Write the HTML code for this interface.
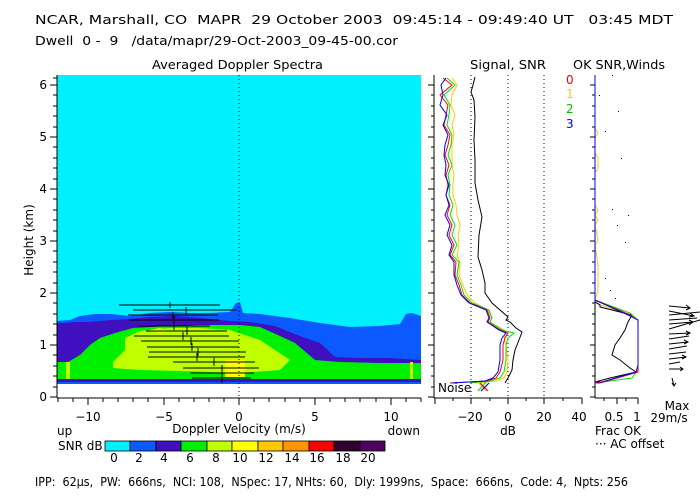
<!DOCTYPE html>
<html><head><meta charset="utf-8"><style>
body{margin:0;background:#fff}
svg{display:block}
text{font-family:"DejaVu Sans","Liberation Sans",sans-serif;font-size:12px}
</style></head><body>
<svg width="700" height="500" viewBox="0 0 700 500" xmlns="http://www.w3.org/2000/svg">
<text x="35" y="24" font-size="13" textLength="638" lengthAdjust="spacingAndGlyphs" xml:space="preserve">NCAR, Marshall, CO  MAPR  29 October 2003  09:45:14 - 09:49:40 UT   03:45 MDT</text>
<text x="35" y="45" font-size="12" textLength="363" lengthAdjust="spacingAndGlyphs" xml:space="preserve">Dwell  0 -  9   /data/mapr/29-Oct-2003_09-45-00.cor</text>
<text x="152" y="69" font-size="12.5" textLength="171" lengthAdjust="spacingAndGlyphs">Averaged Doppler Spectra</text>
<text x="470" y="69" font-size="12.5" textLength="76" lengthAdjust="spacingAndGlyphs">Signal, SNR</text>
<text x="573" y="69" font-size="12.5" textLength="92" lengthAdjust="spacingAndGlyphs">OK SNR,Winds</text>

<!-- main panel -->
<rect x="57" y="75" width="364" height="309" fill="#00f0ff"/>
<polygon fill="#0a5aff" points="57,321 70,320 80,316 95,314 110,314 130,316 150,313 170,312 190,313 210,313 230,312 236,303 240,302 243,313 260,314 290,318 320,323 350,327 380,326 400,324 406,314 412,313 421,316 421,384 57,384"/>
<polygon fill="#4010c0" points="57,323 66,323 75,322 90,322 110,320 130,319 150,317 175,316 200,318 230,321 250,322 275,326 300,336 320,343 335,357 360,358 390,358 421,360 421,384 57,384"/>
<polygon fill="#00f000" points="57,362 68,362 80,355 90,345 100,338 115,333 133,328 170,326 200,325 240,325 260,327 280,336 295,343 315,360 340,362 380,363 421,363 421,380 57,380"/>
<polygon fill="#c0ff00" points="113,362 125,350 125,338 140,331 170,328 200,328 230,330 245,335 260,340 275,350 290,360 280,370 240,373 180,371 140,370 113,368"/>
<polygon fill="#ffff00" points="150,330 160,328 170,331 160,333"/>
<polygon fill="#ffff00" points="225,360 245,360 245,377 225,377"/>
<rect x="66" y="362" width="4" height="21" fill="#c0ff00"/>
<rect x="410" y="362" width="3" height="21" fill="#c0ff00"/>
<rect x="57" y="379" width="364" height="3" fill="#4010c0"/>
<rect x="57" y="382" width="364" height="2" fill="#0a5aff"/>
<line x1="239" y1="75" x2="239" y2="397" stroke="#000" stroke-dasharray="1,3"/>
<g stroke="#000" stroke-width="1">
<line x1="119" y1="305" x2="220" y2="305"/><line x1="170" y1="302" x2="170" y2="308"/>
<line x1="133" y1="310" x2="237" y2="310"/><line x1="186" y1="307" x2="186" y2="314"/>
<line x1="128" y1="315" x2="218" y2="315"/><line x1="173" y1="312" x2="173" y2="319"/>
<line x1="129" y1="320" x2="219" y2="320"/><line x1="174" y1="316" x2="174" y2="324"/>
<line x1="138" y1="326" x2="210" y2="326"/><line x1="174" y1="322" x2="174" y2="330"/>
<line x1="146" y1="331" x2="227" y2="331"/><line x1="187" y1="327" x2="187" y2="335"/>
<line x1="134" y1="336" x2="229" y2="336"/><line x1="183" y1="332" x2="183" y2="340"/>
<line x1="141" y1="341" x2="239" y2="341"/><line x1="191" y1="337" x2="191" y2="345"/>
<line x1="147" y1="347" x2="239" y2="347"/><line x1="192" y1="343" x2="192" y2="351"/>
<line x1="149" y1="352" x2="246" y2="352"/><line x1="198" y1="348" x2="198" y2="356"/>
<line x1="148" y1="357" x2="245" y2="357"/><line x1="197" y1="353" x2="197" y2="361"/>
<line x1="173" y1="362" x2="255" y2="362"/><line x1="214" y1="358" x2="214" y2="366"/>
<line x1="183" y1="368" x2="259" y2="368"/><line x1="222" y1="365" x2="222" y2="383"/>
<line x1="190" y1="373" x2="254" y2="373"/>
<line x1="192" y1="378" x2="251" y2="378"/>
</g>
<!-- axes main -->
<g stroke="#000" fill="none">
<line x1="57" y1="75" x2="57" y2="398"/>
<line x1="57" y1="398" x2="421" y2="398"/>
<path d="M50,85H57M50,137H57M50,189H57M50,241H57M50,293H57M50,345H57M50,397H57"/>
<path d="M53,95H57M53,106H57M53,116H57M53,127H57M53,147H57M53,158H57M53,168H57M53,179H57M53,199H57M53,210H57M53,220H57M53,231H57M53,251H57M53,262H57M53,272H57M53,283H57M53,303H57M53,314H57M53,324H57M53,335H57M53,355H57M53,366H57M53,376H57M53,387H57M53,78H57"/>
<path d="M88,398V405M164,398V405M239,398V405M315,398V405M391,398V405"/>
<path d="M58,398V402M73,398V402M103,398V402M118,398V402M133,398V402M148,398V402M179,398V402M194,398V402M209,398V402M224,398V402M254,398V402M269,398V402M285,398V402M300,398V402M330,398V402M345,398V402M360,398V402M376,398V402M406,398V402M421,398V402"/>
</g>
<g text-anchor="end"><text x="47" y="89">6</text><text x="47" y="141">5</text><text x="47" y="193">4</text><text x="47" y="245">3</text><text x="47" y="297">2</text><text x="47" y="349">1</text><text x="47" y="401">0</text></g>
<text transform="translate(33,240) rotate(-90)" text-anchor="middle" font-size="11">Height (km)</text>
<g text-anchor="middle"><text x="88" y="421">−10</text><text x="164" y="421">−5</text><text x="239" y="421">0</text><text x="315" y="421">5</text><text x="391" y="421">10</text></g>
<text x="57" y="435" font-size="11.5">up</text>
<text x="239" y="433" text-anchor="middle" font-size="11.5">Doppler Velocity (m/s)</text>
<text x="420" y="435" text-anchor="end" font-size="11.5">down</text>
<text x="58" y="450" font-size="11.5">SNR dB</text>
<g stroke="#000" stroke-width="0.8">
<rect x="105" y="441" width="25" height="10" fill="#00f0ff"/>
<rect x="130" y="441" width="26" height="10" fill="#0a5aff"/>
<rect x="156" y="441" width="25" height="10" fill="#4010c0"/>
<rect x="181" y="441" width="26" height="10" fill="#00f000"/>
<rect x="207" y="441" width="25" height="10" fill="#c0ff00"/>
<rect x="232" y="441" width="26" height="10" fill="#ffff00"/>
<rect x="258" y="441" width="25" height="10" fill="#ffc800"/>
<rect x="283" y="441" width="26" height="10" fill="#ff9600"/>
<rect x="309" y="441" width="25" height="10" fill="#ff0000"/>
<rect x="334" y="441" width="26" height="10" fill="#300030"/>
<rect x="360" y="441" width="25" height="10" fill="#500060"/>
</g>
<g text-anchor="middle" font-size="11.5"><text x="114" y="462">0</text><text x="139" y="462">2</text><text x="164" y="462">4</text><text x="190" y="462">6</text><text x="216" y="462">8</text><text x="240" y="462">10</text><text x="266" y="462">12</text><text x="292" y="462">14</text><text x="317" y="462">16</text><text x="343" y="462">18</text><text x="368" y="462">20</text></g>
<text x="35" y="486" font-size="11" textLength="593" lengthAdjust="spacingAndGlyphs" xml:space="preserve">IPP:  62µs,  PW:  666ns,  NCI: 108,  NSpec: 17, NHts: 60,  Dly: 1999ns,  Space:  666ns,  Code: 4,  Npts: 256</text>

<!-- middle panel -->
<g stroke="#000" fill="none">
<line x1="434" y1="75" x2="434" y2="398"/>
<line x1="434" y1="398" x2="582" y2="398"/>
<path d="M428,85H434M428,137H434M428,189H434M428,241H434M428,293H434M428,345H434M428,397H434"/>
<path d="M431,95H434M431,106H434M431,116H434M431,127H434M431,147H434M431,158H434M431,168H434M431,179H434M431,199H434M431,210H434M431,220H434M431,231H434M431,251H434M431,262H434M431,272H434M431,283H434M431,303H434M431,314H434M431,324H434M431,335H434M431,355H434M431,366H434M431,376H434M431,387H434"/>
<path d="M435,398V404M471,398V404M508,398V404M544,398V404M582,398V404M453,398V401M490,398V401M526,398V401M563,398V401"/>
</g>
<g stroke="#000" stroke-dasharray="1,3"><line x1="471" y1="75" x2="471" y2="398"/><line x1="508" y1="75" x2="508" y2="398"/><line x1="544" y1="75" x2="544" y2="398"/></g>
<g text-anchor="middle" font-size="11.5"><text x="470" y="421">−20</text><text x="508" y="421">0</text><text x="544" y="421">20</text><text x="579" y="421">40</text><text x="508" y="435">dB</text></g>
<polyline fill="none" stroke="#000" points="475,77 473,85 471,92 474,100 475,117 474,140 475,160 475,183 478,200 482,217 479,235 478,257 482,270 485,283 485,293 492,303 500,310 508,317 506,320 510,322 516,328 522,332 519,340 515,350 513,360 512,370 508,378 505,383"/>
<polyline fill="none" stroke="#ffc800" points="452,78 457,85 452,95 451,105 455,115 452,125 454,135 452,145 452,155 452,165 454,175 453,185 453,195 456,205 457,215 460,225 458,235 459,245 457,255 460,262 459,275 463,285 467,295 475,303 488,310 492,318 490,322 504,330 506,333 504,338 506,345 508,360 507,372 504,378 496,381 476,383"/>
<polyline fill="none" stroke="#00e000" points="447,78 455,85 444,95 450,105 449,115 447,125 452,135 451,145 448,155 452,165 448,175 450,185 449,195 453,205 450,215 455,225 452,235 457,245 452,255 459,262 457,275 461,285 464,295 472,303 489,310 492,318 490,322 502,330 514,333 508,338 506,345 506,360 504,372 500,378 490,381 470,383"/>
<polyline fill="none" stroke="#ff0000" points="443,78 452,85 440,95 448,105 446,115 444,125 450,135 448,145 445,155 449,165 446,175 448,185 446,195 450,205 447,215 452,225 449,235 454,245 450,255 456,262 455,275 459,285 462,295 470,303 487,310 490,318 488,322 500,330 508,333 505,338 503,345 503,360 500,372 496,378 487,381 450,383"/>
<polyline fill="none" stroke="#0000ff" points="446,78 441,85 443,95 440,105 447,115 443,125 448,135 445,145 444,155 446,165 445,175 449,185 446,195 449,205 445,215 450,225 447,235 452,245 449,255 454,262 454,275 457,285 461,295 469,303 486,310 489,318 487,322 499,330 506,333 502,338 500,345 500,360 498,372 493,378 485,381 452,383"/>
<g stroke-width="1.2"><line x1="478" y1="382" x2="486" y2="391" stroke="#ffc800"/><line x1="486" y1="382" x2="478" y2="391" stroke="#00e000"/><line x1="480" y1="383" x2="488" y2="391" stroke="#ff0000"/><line x1="489" y1="383" x2="481" y2="391" stroke="#0000ff"/></g>
<text x="438" y="392" font-size="11">Noise</text>
<g font-size="11.5"><text x="566" y="84" style="fill:#ff0000">0</text><text x="566" y="98" style="fill:#ffc800">1</text><text x="566" y="113" style="fill:#00c000">2</text><text x="566" y="128" style="fill:#0000ff">3</text></g>

<!-- right panel -->
<g stroke="#000" fill="none">
<line x1="595" y1="75" x2="595" y2="398"/>
<line x1="595" y1="398" x2="638" y2="398"/>
<path d="M590,85H595M590,137H595M590,189H595M590,241H595M590,293H595M590,345H595M590,397H595"/>
<path d="M592,95H595M592,106H595M592,116H595M592,127H595M592,147H595M592,158H595M592,168H595M592,179H595M592,199H595M592,210H595M592,220H595M592,231H595M592,251H595M592,262H595M592,272H595M592,283H595M592,303H595M592,314H595M592,324H595M592,335H595M592,355H595M592,366H595M592,376H595M592,387H595"/>
<path d="M617,398V404M638,398V404M604,398V401M626,398V401"/>
</g>
<polyline fill="none" stroke="#ffc800" points="595,128 598,133 595,138 595,153 598,158 598,168 595,173 595,205 598,210 595,215 598,220 595,225 598,240 595,245 598,265 598,290 595,300 600,305 630,315 638,320"/>
<polyline fill="none" stroke="#000" points="595,302 600,305 600,307 632,315 628,322 625,330 620,338 615,345 612,355 620,360 630,368 636,372 610,378 595,382"/>
<polyline fill="none" stroke="#00e000" points="595,300 630,313 638,320 638,370 632,378 595,383"/>
<polyline fill="none" stroke="#ff0000" points="595,300 628,314 638,320 638,372 600,383 595,383"/>
<polyline fill="none" stroke="#0000ff" points="595,75 595,300 628,315 638,320 638,365 636,372 602,382 595,382"/>
<g fill="#000"><rect x="612" y="75" width="1" height="1"/><rect x="599" y="95" width="1" height="1"/><rect x="618" y="111" width="1" height="1"/><rect x="605" y="131" width="1" height="1"/><rect x="621" y="158" width="1" height="1"/><rect x="612" y="209" width="1" height="1"/><rect x="628" y="215" width="1" height="1"/><rect x="617" y="225" width="1" height="1"/><rect x="625" y="242" width="1" height="1"/><rect x="605" y="278" width="1" height="1"/><rect x="610" y="290" width="1" height="1"/><rect x="615" y="298" width="1" height="1"/></g>
<g text-anchor="middle" font-size="11.5"><text x="614" y="421">0.5</text><text x="637" y="421">1</text></g>
<text x="595" y="435" font-size="11">Frac OK</text>
<text x="595" y="448" font-size="11">··· AC offset</text>
<!-- winds -->
<g stroke="#000" fill="none" stroke-width="1">
<path d="M669,306L690,308M686,305L690,308L686,310"/>
<path d="M669,311L694,316M690,313L694,316L689,317"/>
<path d="M669,315L700,312"/>
<path d="M669,320L697,318"/>
<path d="M669,324L693,322M689,320L693,322L689,325"/>
<path d="M669,329L700,320"/>
<path d="M669,334L690,333M686,331L690,333L686,335"/>
<path d="M669,339L689,336"/>
<path d="M669,344L688,342M684,340L688,342L684,344"/>
<path d="M669,349L687,346"/>
<path d="M669,354L686,352"/>
<path d="M669,359L686,357M682,355L686,357L682,359"/>
<path d="M669,364L680,362"/>
<path d="M669,369L683,369M680,367L683,369L680,371"/>
<path d="M672,378L674,386M672,383L674,386L676,383"/>
</g>
<text x="677" y="410" text-anchor="middle" font-size="11">Max</text>
<text x="669" y="422" text-anchor="middle" font-size="11">29m/s</text>
</svg>
</body></html>
